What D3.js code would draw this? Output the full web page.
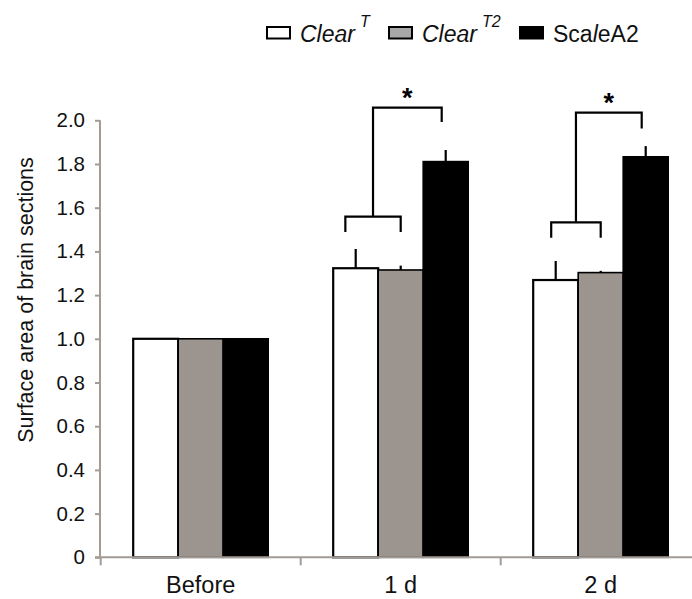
<!DOCTYPE html>
<html><head><meta charset="utf-8">
<script src="https://cdn.jsdelivr.net/npm/d3@7"></script>
<style>
body{margin:0;background:#fff;}
svg{display:block;font-family:"Liberation Sans",Arial,sans-serif;}
</style></head>
<body><svg id="c" width="692" height="599"></svg>
<script>
const categories = ["Before", "1 d", "2 d"];
const seriesNames = ["ClearT", "ClearT2", "ScaleA2"];
const clearT   = [1.0, 1.323, 1.269];
const clearT2  = [1.0, 1.315, 1.303];
const scaleA2  = [1.0, 1.811, 1.833];
const errClearT  = [0, 0.088, 0.087];
const errClearT2 = [0, 0.020, 0.008];
const errScaleA2 = [0, 0.053, 0.049];
const yTicks = [0, 0.2, 0.4, 0.6, 0.8, 1.0, 1.2, 1.4, 1.6, 1.8, 2.0];
const yTickLabels = ["0", "0.2", "0.4", "0.6", "0.8", "1.0", "1.2", "1.4", "1.6", "1.8", "2.0"];
// significance brackets
const sigCats   = ["1 d", "2 d"];
const sigLow    = [1.559, 1.533];
const sigLowLeg = [1.489, 1.463];
const sigHigh   = [2.058, 2.035];
const sigHighLeg= [1.992, 1.963];
const sigLeftFrac = [0.27, 0.40];
const sigLabel = "*";

const values = [clearT, clearT2, scaleA2];
const errs = [errClearT, errClearT2, errScaleA2];
const fills = ["#ffffff", "#9c958f", "#000000"];
const legendFills = ["#ffffff", "#a8a8a8", "#000000"];
const axisColor = "#a39b95";

const svg = d3.select("#c");
const x = d3.scaleBand().domain(categories).range([100.7, 700.7]).paddingInner(0.325).paddingOuter(0.1625);
const xs = d3.scaleBand().domain(seriesNames).range([0, x.bandwidth()]).padding(0);
const y = d3.scaleLinear().domain([0, 2]).range([557.3, 120.3]);

// Y axis
const yAxis = svg.append("g").attr("transform", "translate(100,0)")
  .call(d3.axisLeft(y).tickValues(yTicks).tickFormat((d, i) => yTickLabels[i]).tickSize(5).tickPadding(10));
yAxis.select(".domain").attr("stroke", axisColor).attr("stroke-width", 2).attr("d", `M0,${y(0)}V${y(2)}`);
yAxis.selectAll(".tick line").attr("stroke", axisColor).attr("stroke-width", 2);
yAxis.selectAll(".tick text").attr("font-size", 20.5).attr("fill", "#111");

// bars
seriesNames.forEach((s, si) => {
  svg.append("g").selectAll("rect").data(categories).join("rect")
    .attr("x", (c) => x(c) + xs(s))
    .attr("y", (c, i) => y(values[si][i]))
    .attr("width", xs.bandwidth())
    .attr("height", (c, i) => y(0) - y(values[si][i]))
    .attr("fill", fills[si])
    .attr("stroke", "#000")
    .attr("stroke-width", si === 0 ? 2.2 : 1.6);
});
// error bars (upper only)
seriesNames.forEach((s, si) => {
  svg.append("g").selectAll("line").data(categories.filter((c, i) => errs[si][i] > 0)).join("line")
    .attr("x1", (c) => x(c) + xs(s) + xs.bandwidth() / 2)
    .attr("x2", (c) => x(c) + xs(s) + xs.bandwidth() / 2)
    .attr("y1", (c) => y(values[si][categories.indexOf(c)]))
    .attr("y2", (c) => y(values[si][categories.indexOf(c)] + errs[si][categories.indexOf(c)]))
    .attr("stroke", "#000").attr("stroke-width", 2.2);
});

// X axis
const xAxisG = svg.append("g");
xAxisG.append("line").attr("x1", 95).attr("x2", 700).attr("y1", y(0)).attr("y2", y(0))
  .attr("stroke", axisColor).attr("stroke-width", 2);
const bounds = categories.map(c => x(c) - x.step() * x.paddingOuter());
xAxisG.selectAll("line.t").data(bounds).join("line").attr("class", "t")
  .attr("x1", d => d).attr("x2", d => d).attr("y1", y(0)).attr("y2", y(0) + 8)
  .attr("stroke", axisColor).attr("stroke-width", 2);
xAxisG.selectAll("text").data(categories).join("text")
  .attr("x", c => x(c) + x.bandwidth() / 2)
  .attr("y", 593)
  .attr("text-anchor", "middle").attr("font-size", 23.5).attr("fill", "#111")
  .text(c => c);

// Y title
svg.append("text").attr("transform", "translate(33,300) rotate(-90)")
  .attr("text-anchor", "middle").attr("font-size", 21.5).attr("fill", "#111")
  .text("Surface area of brain sections");

// significance brackets
sigCats.forEach((c, k) => {
  const wL = x(c) + xs(seriesNames[0]) + xs.bandwidth() * sigLeftFrac[k];
  const gC = x(c) + xs(seriesNames[1]) + xs.bandwidth() / 2;
  const bC = x(c) + xs(seriesNames[2]) + xs.bandwidth() / 2 - 4;
  const mid = (wL + gC) / 2;
  const g = svg.append("g").attr("fill", "none").attr("stroke", "#000").attr("stroke-width", 2.2);
  g.append("path").attr("d", `M${wL},${y(sigLowLeg[k])}V${y(sigLow[k])}H${gC}V${y(sigLowLeg[k])}`);
  g.append("path").attr("d", `M${mid},${y(sigLow[k])}V${y(sigHigh[k])}H${bC}V${y(sigHighLeg[k])}`);
  svg.append("text").attr("x", (mid + bC) / 2).attr("y", y(sigHigh[k]) - 1)
    .attr("text-anchor", "middle").attr("font-size", 27).attr("font-weight", "bold").text(sigLabel);
});

// legend
const legend = [
  {fill: legendFills[0], x: 267, parts: [["Clear", "italic"]], sup: "T"},
  {fill: legendFills[1], x: 389, parts: [["Clear", "italic"]], sup: "T2"},
  {fill: legendFills[2], x: 520, parts: [["Sca", "normal"], ["l", "italic"], ["eA2", "normal"]], sup: null}
];
legend.forEach(L => {
  svg.append("rect").attr("x", L.x).attr("y", 27).attr("width", 23).attr("height", 11.5)
    .attr("fill", L.fill).attr("stroke", "#000").attr("stroke-width", 2);
  const t = svg.append("text").attr("x", L.x + 33).attr("y", 42).attr("font-size", 23).attr("fill", "#111");
  L.parts.forEach(p => t.append("tspan").attr("font-style", p[1]).text(p[0]));
  if (L.sup) t.append("tspan").attr("font-style", "italic").attr("font-size", 16).attr("dx", 5).attr("dy", -15).text(L.sup);
});
</script></body></html>
